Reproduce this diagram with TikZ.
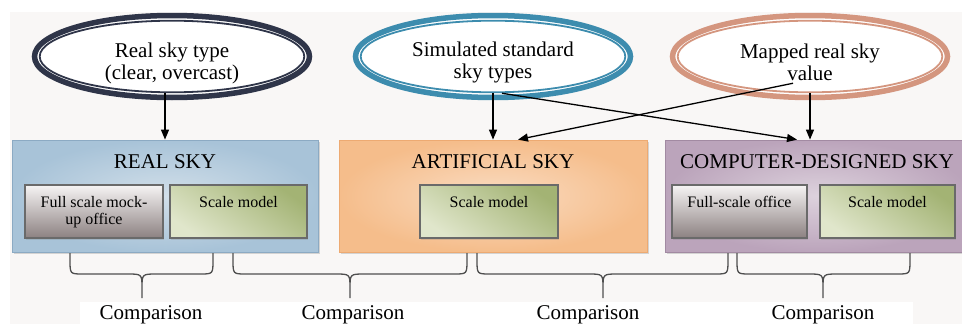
\documentclass[tikz,border=0pt]{standalone}
\usepackage{fontspec}
\setmainfont{Liberation Serif}
\usetikzlibrary{shapes.geometric,arrows.meta,shadows,calc}

% palette
\definecolor{pagebg}{HTML}{F9F7F6}
\definecolor{ringnavy}{HTML}{2F3549}
\definecolor{ringteal}{HTML}{3D8CAE}
\definecolor{ringrose}{HTML}{D4967F}
\definecolor{rbIn}{HTML}{D2DFE9}
\definecolor{rbOut}{HTML}{A8C3D8}
\definecolor{rbEdge}{HTML}{8CAAC3}
\definecolor{abIn}{HTML}{FADCC2}
\definecolor{abOut}{HTML}{F5BD8B}
\definecolor{abEdge}{HTML}{EDAA72}
\definecolor{cbIn}{HTML}{DDD2DD}
\definecolor{cbOut}{HTML}{BBA4BB}
\definecolor{cbEdge}{HTML}{A28AA2}
\definecolor{greyTop}{HTML}{F6F4F4}
\definecolor{greyBot}{HTML}{8C8181}
\definecolor{greenDark}{HTML}{A3B374}
\definecolor{greenLight}{HTML}{E0E6CB}
\definecolor{innerEdge}{HTML}{6A6A6A}
\definecolor{braceGrey}{HTML}{4F4F4F}

\tikzset{
  skyring/.style={ellipse, minimum width=275pt, minimum height=82pt,
    line width=5.5pt, fill=white, inner sep=0pt},
  ringtext/.style={align=center, inner sep=0pt,
    font=\fontsize{21}{21.5}\selectfont},
  skybox/.style={rectangle, minimum width=#1, minimum height=112pt,
    inner sep=0pt, line width=0.8pt,
    drop shadow={shadow xshift=1.5pt, shadow yshift=-2pt, opacity=0.3}},
  titletext/.style={inner sep=0pt, font=\fontsize{21}{24}\selectfont},
  modelbox/.style={rectangle, minimum width=#1, minimum height=53pt,
    inner sep=0pt, draw=innerEdge, line width=1.4pt,
    drop shadow={shadow xshift=1pt, shadow yshift=-1.5pt, opacity=0.25}},
  greymodel/.style={modelbox=#1, top color=greyTop, bottom color=greyBot},
  greenmodel/.style={modelbox=#1, top color=greenDark, bottom color=greenLight,
    shading angle=-35},
  smalltext/.style={align=center, inner sep=0pt,
    font=\fontsize{16}{17}\selectfont},
  cmptext/.style={inner sep=0pt, font=\fontsize{21}{24}\selectfont},
  arr/.style={line width=1.3pt, -{Triangle[length=10pt,width=8pt]}},
  bracestyle/.style={draw=braceGrey, line width=1.3pt, line join=round}
}

% curly brace hanging below the sky boxes: left end, right end, tip
\newcommand\cmpbrace[3]{%
  \draw[bracestyle] (#1,253) -- (#1,260) .. controls (#1,274) .. ({#1+13},274)
    -- ({#3-15},274) .. controls (#3,274) .. (#3,288) -- (#3,298)
    (#3,288) .. controls (#3,274) .. ({#3+15},274)
    -- ({#2-13},274) .. controls (#2,274) .. (#2,260) -- (#2,253);}

\begin{document}
\begin{tikzpicture}[x=1pt,y=-1pt]
\useasboundingbox (0,0) rectangle (962,324);
\fill[white] (0,0) rectangle (962,324);
\fill[pagebg] (10,12) rectangle (962,324);
\fill[white] (80,302) rectangle (913,324);

% sky boxes
\node[skybox=306pt, draw=rbEdge, inner color=rbIn, outer color=rbOut] (RB) at (165,196) {};
\node[skybox=308pt, draw=abEdge, inner color=abIn, outer color=abOut] (AB) at (493,196) {};
\node[skybox=304pt, draw=cbEdge, inner color=cbIn, outer color=cbOut] (CB) at (817,196) {};

\node[titletext, anchor=base] (RBt) at ([yshift=-29pt]RB.north) {REAL SKY};
\node[titletext, anchor=base] (ABt) at ([yshift=-29pt]AB.north) {ARTIFICIAL SKY};
\node[titletext, anchor=base] (CBt) at ([yshift=-29pt]CB.north) {COMPUTER-DESIGNED SKY};

% models inside the sky boxes
\node[greymodel=138pt] (RBf) at (94,211.5) {};
\node[greenmodel=137pt] (RBs) at (238.5,211.5) {};
\node[greenmodel=138pt] (ABs) at (489,211.5) {};
\node[greymodel=135pt] (CBf) at (739.5,211.5) {};
\node[greenmodel=135pt] (CBs) at (887.5,211.5) {};

\node[smalltext, anchor=north] (RBft) at ([yshift=-12pt]RBf.north) {Full scale mock-\\up office};
\node[smalltext, anchor=north] (RBst) at ([yshift=-12pt]RBs.north) {Scale model};
\node[smalltext, anchor=north] (ABst) at ([yshift=-12pt]ABs.north) {Scale model};
\node[smalltext, anchor=north] (CBft) at ([yshift=-12pt]CBf.north) {Full-scale office};
\node[smalltext, anchor=north] (CBst) at ([yshift=-12pt]CBs.north) {Scale model};

% sky sources
\node[skyring, draw=ringnavy] (E1) at (172,56.5) {};
\node[skyring, draw=ringteal] (E2) at (493,56.5) {};
\node[skyring, draw=ringrose] (E3) at (810,56.5) {};
\draw[ringnavy, line width=1.8pt] (E1.center) ellipse [x radius=132.3pt, y radius=35.8pt];
\draw[ringteal, line width=1.8pt] (E2.center) ellipse [x radius=132.3pt, y radius=35.8pt];
\draw[ringrose, line width=1.8pt] (E3.center) ellipse [x radius=132.3pt, y radius=35.8pt];

\node[ringtext] (E1t) at ([yshift=-7pt]E1.center) {Real sky type\\(clear, overcast)};
\node[ringtext] (E2t) at ([yshift=-6pt]E2.center) {Simulated standard\\sky types};
\node[ringtext] (E3t) at ([yshift=-6pt]E3.center) {Mapped real sky\\value};

% connectors
\coordinate (E1b) at ([yshift=7pt]E1.south);
\coordinate (E2b) at ([yshift=7pt]E2.south);
\coordinate (E3b) at ([yshift=7pt]E3.south);
\draw[arr] (RB.north |- E1b) -- (RB.north);
\draw[arr] (AB.north |- E2b) -- (AB.north);
\draw[arr] (E3b) -- (E3b |- CB.north);
\draw[arr] ([xshift=9pt]E2b) -- ([xshift=-20pt]CB.north);
\draw[arr] ([xshift=-17pt,yshift=10pt]E3b) -- ([xshift=25pt]AB.north);

% comparisons
\cmpbrace{70}{213}{142}
\cmpbrace{233}{467}{350}
\cmpbrace{477}{728}{603}
\cmpbrace{737}{910}{823}

\node[cmptext, anchor=base] (C1) at (151,319) {Comparison};
\node[cmptext, anchor=base] (C2) at (353,319) {Comparison};
\node[cmptext, anchor=base] (C3) at (588,319) {Comparison};
\node[cmptext, anchor=base] (C4) at (823,319) {Comparison};
\end{tikzpicture}
\end{document}
